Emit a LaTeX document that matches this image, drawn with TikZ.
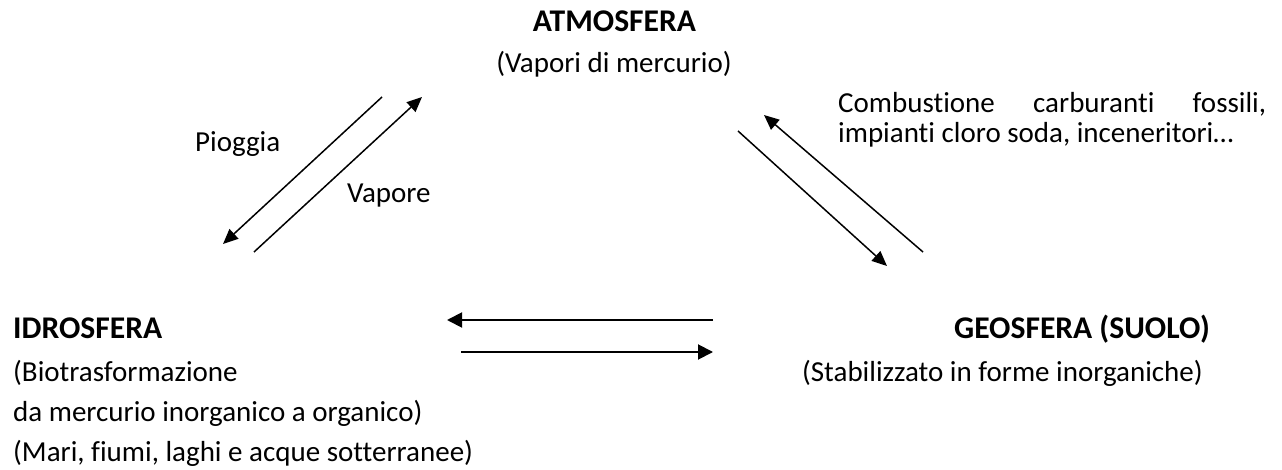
\documentclass[tikz,border=0pt]{standalone}
\usepackage{fontspec}
\setmainfont{Carlito}[Ligatures={NoCommon}]
\usetikzlibrary{arrows.meta}
\begin{document}
\begin{tikzpicture}[x=1pt,y=-1pt,
  txt/.style={inner sep=0pt, anchor=base west, font=\fontsize{29}{35}\selectfont},
  ttl/.style={inner sep=0pt, anchor=base west, font=\fontsize{31.6}{38}\selectfont\bfseries},
  arr/.style={-{Triangle[length=15pt,width=13pt]}, line width=1.5pt},
  harr/.style={-{Triangle[length=15pt,width=15pt]}, line width=1.9pt}]
\useasboundingbox (0,0) rectangle (1282,470);
% texts
\node[ttl, anchor=base] (atm) at (614.5,32) {ATMOSFERA};
\node[txt, anchor=base] (atmd) at (614,73) {(Vapori di mercurio)};
\node[txt] (piog) at (195,152) {Pioggia};
\node[txt] (vap) at (347,203) {Vapore};
\node[txt] (comb1) at (838,113) {\makebox[428pt][s]{Combustione carburanti fossili,}};
\node[txt] (comb2) at (838,143) {impianti cloro soda, inceneritori…};
\node[ttl] (idro) at (13,338) {IDROSFERA};
\node[txt] (idro1) at (13,381) {(Biotrasformazione};
\node[txt] (idro2) at (13,421) {da mercurio inorganico a organico)};
\node[txt] (idro3) at (13,461) {(Mari, fiumi, laghi e acque sotterranee)};
\node[ttl, anchor=base east] (geo) at (1210,338) {GEOSFERA (SUOLO)};
\node[txt, anchor=base east] (geod) at (1203,381) {(Stabilizzato in forme inorganiche)};
% arrow end points
\coordinate (pa) at (382,97);  \coordinate (pb) at (223,244);
\coordinate (va) at (254,252); \coordinate (vb) at (422,97);
\coordinate (ca) at (923,252); \coordinate (cb) at (764,115);
\coordinate (da) at (738,131); \coordinate (db) at (887,266);
\coordinate (ha) at (713,320); \coordinate (hb) at (447,320);
\coordinate (ka) at (461,352); \coordinate (kb) at (713,352);
% arrows
\draw[arr] (pa) -- (pb);
\draw[arr] (va) -- (vb);
\draw[arr] (ca) -- (cb);
\draw[arr] (da) -- (db);
\draw[harr] (ha) -- (hb);
\draw[harr] (ka) -- (kb);
\end{tikzpicture}
\end{document}
